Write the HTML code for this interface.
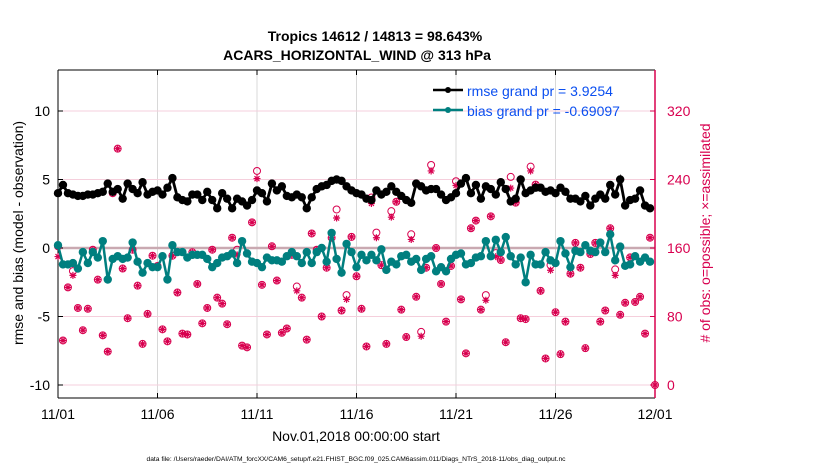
<!DOCTYPE html>
<html><head><meta charset="utf-8"><style>
body{margin:0;background:#fff;}
svg{display:block;font-family:"Liberation Sans",Arial,sans-serif;}
</style></head><body>
<svg id="chart" width="830" height="470" viewBox="0 0 830 470">
<rect width="830" height="470" fill="#fff"/>
<g id="grid"></g>
<g id="axes"></g>
<g id="obs"></g>
<g id="lines"></g>
<text x="375" y="41" text-anchor="middle" font-size="14" font-weight="bold">Tropics 14612 / 14813 = 98.643%</text>
<text x="357" y="60" text-anchor="middle" font-size="14" font-weight="bold">ACARS_HORIZONTAL_WIND @ 313 hPa</text>
<g>
<g>
<line x1="433" y1="90" x2="463" y2="90" stroke="#000" stroke-width="2.5"/><circle cx="448" cy="90" r="3" fill="#000"/>
<text x="467" y="96" font-size="14" fill="#0b4ff0">rmse grand pr = 3.9254</text></g>
<g>
<line x1="433" y1="110" x2="463" y2="110" stroke="#007f7f" stroke-width="2.5"/><circle cx="448" cy="110" r="3" fill="#007f7f"/>
<text x="467" y="116" font-size="14" fill="#0b4ff0">bias grand pr = -0.69097</text></g>
</g>
<text transform="translate(23,233) rotate(-90)" text-anchor="middle" font-size="14">rmse and bias (model - observation)</text>
<text transform="translate(710,233) rotate(-90)" text-anchor="middle" font-size="14" fill="#d8004f"># of obs: o=possible; ×=assimilated</text>
<text x="356" y="441" text-anchor="middle" font-size="14">Nov.01,2018 00:00:00 start</text>
<text x="356" y="461" text-anchor="middle" font-size="6.7">data file: /Users/raeder/DAI/ATM_forcXX/CAM6_setup/f.e21.FHIST_BGC.f09_025.CAM6assim.011/Diags_NTrS_2018-11/obs_diag_output.nc</text>
</svg>
<script>
const xTickLabels=["11/01","11/06","11/11","11/16","11/21","11/26","12/01"];
const leftTicks=[10,5,0,-5,-10];
const rightTicks=[320,240,160,80,0];
const rmse=[4.0,4.6,4.0,3.9,3.8,3.8,3.9,3.9,4.0,4.1,4.7,4.1,4.3,3.6,4.7,4.3,4.0,4.8,3.9,4.1,4.2,3.9,4.4,5.1,3.7,3.5,3.4,3.9,3.9,3.5,4.1,
3.5,2.9,4.0,3.6,2.9,3.6,3.4,3.1,3.5,4.2,4.0,3.4,4.7,4.2,4.5,3.8,3.7,3.9,3.7,2.9,3.7,4.3,4.5,4.6,4.9,5.0,4.9,4.5,4.2,4.0,
3.9,3.6,3.5,4.2,3.9,4.1,4.5,4.1,3.8,3.5,3.3,4.7,4.5,4.2,4.3,4.3,3.9,3.5,3.7,4.0,4.7,5.1,4.0,4.6,3.6,4.5,4.3,3.9,4.8,4.3,
3.4,3.6,5.0,4.0,4.2,4.4,4.4,4.1,4.2,4.0,4.4,4.1,3.6,3.6,3.4,3.8,3.1,3.6,3.9,3.6,4.6,3.9,5.0,3.1,3.5,3.6,4.2,3.1,2.9];
const bias=[0.2,-1.2,-1.2,-1.1,-1.5,-0.3,-1.1,-0.3,-0.7,0.5,-2.3,-0.8,-0.6,-0.8,-0.7,0.4,-1.0,-1.8,-1.1,-1.4,-1.4,-0.6,-2.3,0.2,-0.3,-0.3,-0.7,-0.5,-0.5,-0.5,-0.8,
-1.4,-1.1,-0.7,-0.6,-0.4,-1.1,0.5,-0.4,-1.0,-1.1,-1.4,-0.7,-0.9,-0.9,-1.0,-0.6,-0.3,-0.6,-1.1,-0.3,-1.1,-0.3,0.0,-1.0,1.1,-0.8,-1.8,0.3,-0.3,-1.4,
-0.5,-0.9,-0.5,-0.9,-0.1,-1.6,-1.0,-1.2,-0.6,-0.5,-1.0,-0.8,-1.6,-0.8,-0.6,-1.7,-1.4,-1.7,-0.8,-0.5,-0.4,-1.2,-1.1,-0.7,-0.6,0.5,-0.6,0.6,-0.3,0.8,
-0.6,-1.2,-0.7,-2.5,-0.5,-1.2,-1.2,-0.3,-0.9,-1.1,0.5,-0.4,-1.4,-0.2,-0.3,0.2,-0.2,-0.3,0.4,-0.3,1.0,-0.9,0.1,-1.3,-1.2,-0.6,-1.0,-0.7,-1.0];
const possible=[162,52,114,133,90,64,89,158,123,58,39,224,276,136,78,158,116,48,83,151,139,65,51,151,108,60,59,155,118,72,90,
158,102,95,71,172,158,46,44,190,250,117,59,162,122,61,66,152,115,102,53,177,158,80,137,172,205,87,105,173,127,
89,45,219,178,140,48,203,214,88,56,176,103,62,137,257,160,118,74,139,238,100,37,183,192,88,105,197,154,146,50,
243,213,78,77,255,234,110,31,140,85,36,74,130,166,137,43,153,166,74,87,183,135,82,96,149,97,103,60,172,0];
const assimilated=[150,52,114,128,90,64,89,158,123,58,39,224,276,136,78,158,116,48,83,151,139,65,51,151,108,60,59,155,118,72,90,
158,102,95,71,172,152,46,44,190,241,117,59,162,122,61,66,152,110,102,53,177,158,80,137,172,195,87,100,173,127,
89,45,212,172,140,48,196,214,88,56,170,103,57,137,250,160,118,74,139,233,100,37,183,192,88,99,197,150,146,50,
230,213,78,77,250,234,110,31,134,85,36,74,130,166,137,43,153,166,74,87,183,128,82,96,149,97,103,60,172,0];

const NS="http://www.w3.org/2000/svg";
const X0=58,X1=655,Y0=70,Y1=398;
function xPos(i){return X0+(X1-X0)*i/120;}
function xDay(d){return X0+(X1-X0)*d/30;}
function yL(v){return 248-13.7*v;}
function yR(c){return yL(c/16-10);}
function mk(tag,attrs,parent){const e=document.createElementNS(NS,tag);for(const k in attrs)e.setAttribute(k,attrs[k]);parent.appendChild(e);return e;}
const grid=document.getElementById('grid'),axes=document.getElementById('axes'),obs=document.getElementById('obs'),lines=document.getElementById('lines');
const RED="#d8004f";
xTickLabels.forEach((t,k)=>{const x=xDay(k*5);
 if(k>0&&k<6){const g=mk('line',{x1:x,x2:x,y1:Y0,y2:Y1,stroke:'#d8d8d8','stroke-width':1},grid);
 
 }
 mk('line',{x1:x,x2:x,y1:Y1,y2:Y1-5,stroke:'#000'},axes);
 mk('line',{x1:x,x2:x,y1:Y0,y2:Y0+5,stroke:'#000'},axes);
 const tx=mk('text',{x:x,y:Y1+21,'text-anchor':'middle','font-size':14},axes);tx.textContent=t;
 
 
});
rightTicks.forEach(c=>{const y=yR(c);
 const g=mk('line',{x1:X0,x2:X1,y1:y,y2:y,stroke:'#f5cfdc','stroke-width':1},grid);
 
 
 mk('line',{x1:X1,x2:X1-5,y1:y,y2:y,stroke:RED},axes);
 const tx=mk('text',{x:X1+12,y:y+5,'font-size':14,fill:RED},axes);tx.textContent=c;
 
 
});
leftTicks.forEach(v=>{const y=yL(v);
 mk('line',{x1:X0,x2:X0+5,y1:y,y2:y,stroke:'#000'},axes);
 const tx=mk('text',{x:X0-8,y:y+5,'text-anchor':'end','font-size':14},axes);tx.textContent=v;
 
 
});
const zl=mk('line',{x1:X0,x2:X1,y1:yL(0),y2:yL(0),stroke:'#c9a9b1','stroke-width':2.5},grid);


mk('line',{x1:X0,x2:X1,y1:Y0,y2:Y0,stroke:'#000'},axes);
mk('line',{x1:X0,x2:X1,y1:Y1,y2:Y1,stroke:'#000'},axes);
mk('line',{x1:X0,x2:X0,y1:Y0,y2:Y1,stroke:'#000'},axes);
mk('line',{x1:X1,x2:X1,y1:Y0,y2:Y1,stroke:RED,'stroke-width':1.5},axes);
possible.forEach((c,i)=>{const p=mk('circle',{cx:xPos(i),cy:yR(c),r:3.5,fill:'none',stroke:RED,'stroke-width':1},obs);
 
 });
assimilated.forEach((c,i)=>{const x=xPos(i),y=yR(c);
 const p=mk('path',{d:`M${x-3.5},${y}H${x+3.5}M${x},${y-3.5}V${y+3.5}M${x-2.5},${y-2.5}L${x+2.5},${y+2.5}M${x-2.5},${y+2.5}L${x+2.5},${y-2.5}`,stroke:RED,'stroke-width':1.2},obs);
 
 });
function series(arr,col,name,r,w){
 const l=mk('polyline',{points:arr.map((v,i)=>xPos(i)+','+yL(v)).join(' '),fill:'none',stroke:col,'stroke-width':w},lines);
 
 
 arr.forEach((v,i)=>{const c=mk('circle',{cx:xPos(i),cy:yL(v),r:r,fill:col},lines);
 
 });
}
series(bias,'#007f7f','bias',4.2,2.5);
series(rmse,'#000','rmse',4.2,2.8);
</script>
</body></html>
